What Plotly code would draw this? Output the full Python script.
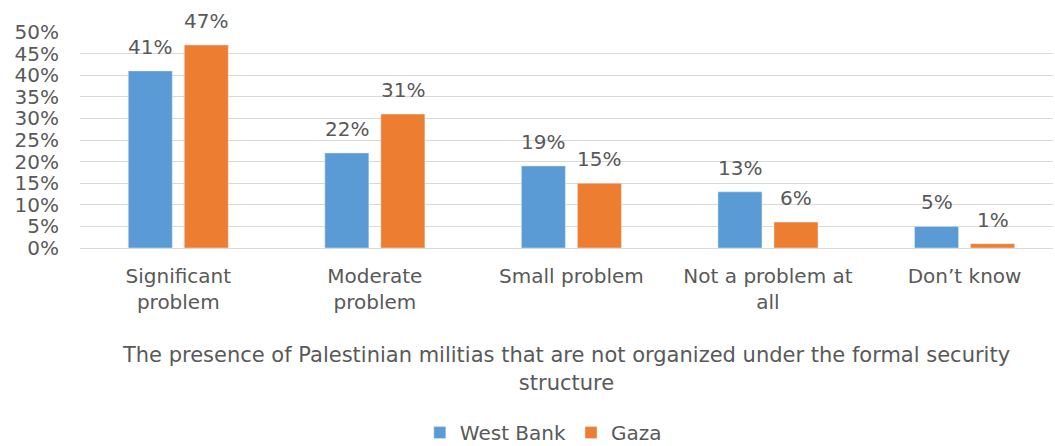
import plotly.graph_objects as go

categories = ["Significant<br>problem", "Moderate<br>problem", "Small problem", "Not a problem at<br>all", "Don’t know"]
west_bank = [41, 22, 19, 13, 5]
gaza = [47, 31, 15, 6, 1]
tick_vals = [0, 5, 10, 15, 20, 25, 30, 35, 40, 45, 50]
tick_text = [f"{v}%" for v in tick_vals]

FONT = "DejaVu Sans"
GREY = "#595959"

fig = go.Figure()
fig.add_trace(go.Bar(name="West Bank", x=categories, y=west_bank, marker_color="#5B9BD5"))
fig.add_trace(go.Bar(name="Gaza", x=categories, y=gaza, marker_color="#ED7D31"))

# data labels
for series, shift in ((west_bank, -28), (gaza, 28)):
    for cat, v in zip(categories, series):
        fig.add_annotation(x=cat, y=v, xref="x", yref="y", text=f"{v}%", showarrow=False,
                           xshift=shift, yanchor="bottom", yshift=10,
                           font=dict(size=20, color=GREY, family=FONT))

fig.update_layout(
    width=1055, height=446,
    margin=dict(l=80, r=2, t=32, b=198, autoexpand=False),
    paper_bgcolor="white", plot_bgcolor="white",
    barmode="group", bargap=0.43, bargroupgap=0.214,
    font=dict(family=FONT, color=GREY, size=20),
    showlegend=True,
    legend=dict(orientation="h", x=0.515, xanchor="center", xref="container",
                y=0.03, yanchor="middle", yref="container",
                font=dict(size=20, color=GREY, family=FONT), itemwidth=30,
                traceorder="normal"),
    xaxis=dict(range=[-0.5, 4.45], tickfont=dict(size=20, color=GREY), showline=True,
               linecolor="#d9d9d9", linewidth=1, ticks="", automargin=False,
               ticklabelstandoff=10,
               title=dict(text="The presence of Palestinian militias that are not organized under the formal security<br>structure",
                          font=dict(size=21, color=GREY), standoff=34)),
    yaxis=dict(range=[0, 50], tickvals=tick_vals, ticktext=tick_text, automargin=False,
               tickfont=dict(size=20, color=GREY), showgrid=True, gridcolor="#d9d9d9",
               gridwidth=1, zeroline=False, ticks="", ticklabelstandoff=20),
)

fig.write_html("out.html", post_script="document.body.style.margin='0';",
               config={"displayModeBar": False})
